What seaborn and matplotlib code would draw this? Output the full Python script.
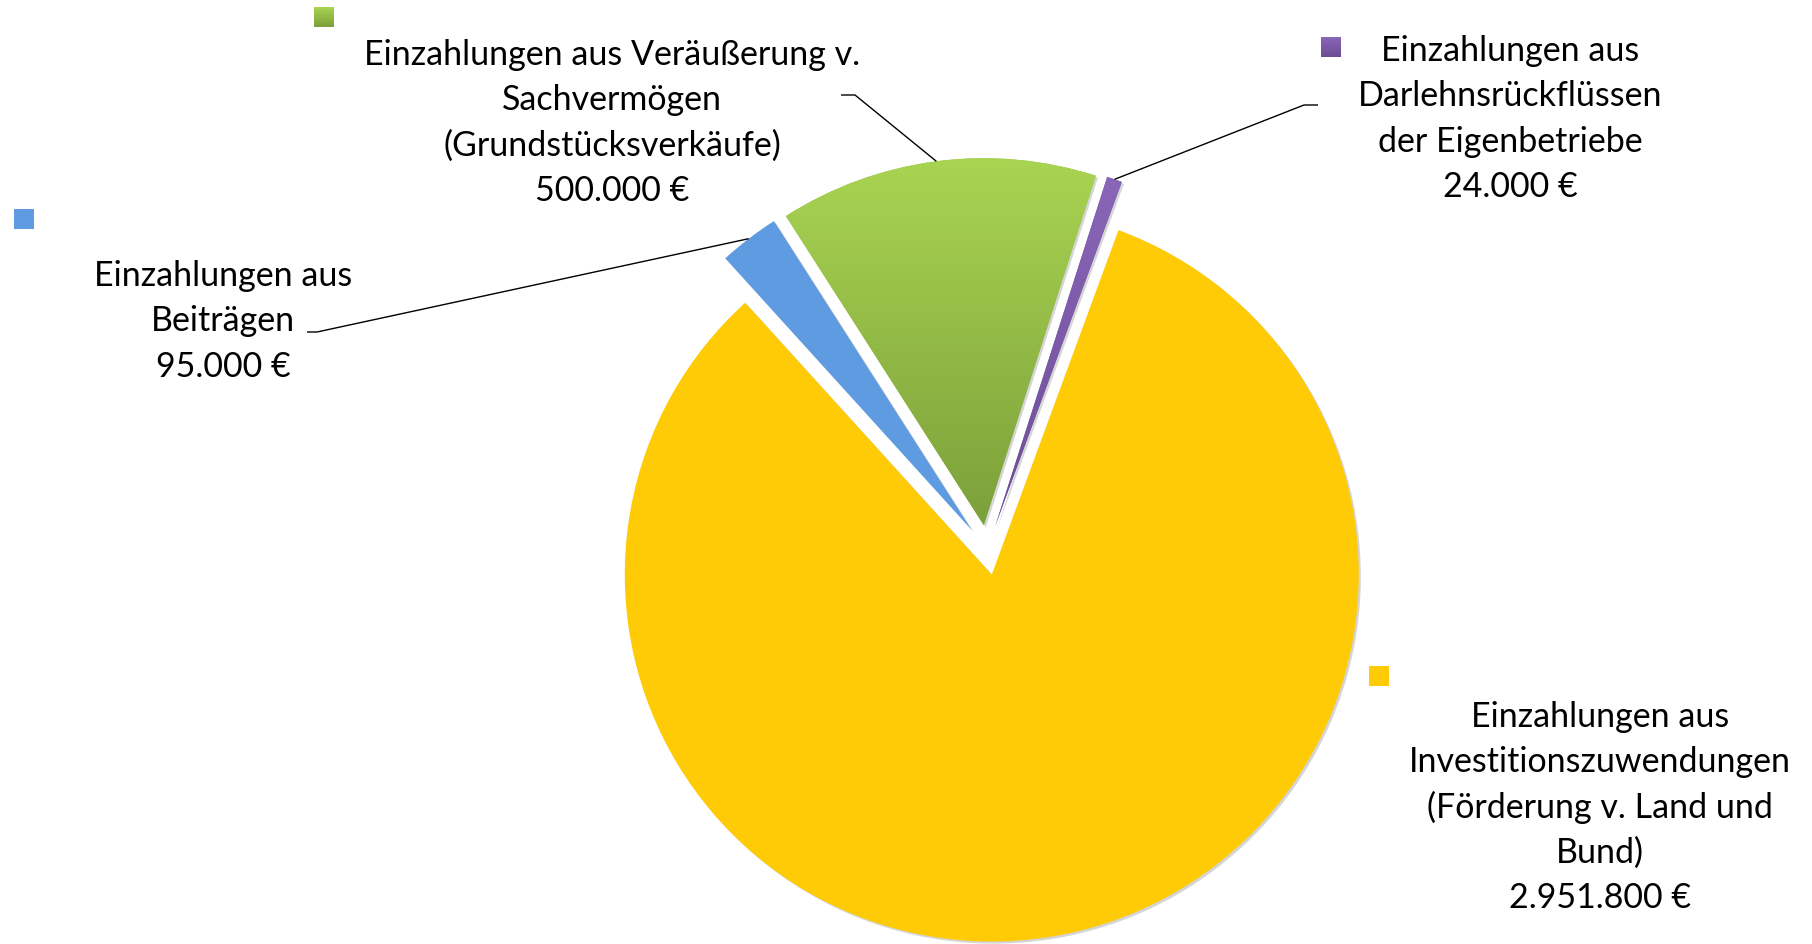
import numpy as np
import matplotlib
matplotlib.use("Agg")
import matplotlib.pyplot as plt
import seaborn as sns
from matplotlib import patheffects
from matplotlib.colors import LinearSegmentedColormap
from matplotlib.patches import Rectangle

# ---------------- data ----------------
categories = [
    "Investitionszuwendungen",
    "Beiträge",
    "Veräußerung v. Sachvermögen",
    "Darlehnsrückflüsse der Eigenbetriebe",
]
values = [2951800, 95000, 500000, 24000]
label_lines = [
    ["Einzahlungen aus", "Investitionszuwendungen", "(Förderung v. Land und", "Bund)"],
    ["Einzahlungen aus", "Beiträgen"],
    ["Einzahlungen aus Veräußerung v.", "Sachvermögen", "(Grundstücksverkäufe)"],
    ["Einzahlungen aus", "Darlehnsrückflüssen", "der Eigenbetriebe"],
]
colors = ["#FECB06", "#5F9BE0", "#98C24A", "#7F5DAA"]
gradients = [None, None, ("#A9D452", "#7CA03A"), ("#8A66B8", "#6C4C96")]


def euro(v):
    return f"{v:,.0f}".replace(",", ".") + " €"


value_labels = [euro(v) for v in values]

# ---------------- layout (pixel space, y from top) ----------------
W, H = 1812, 945
FONT = ["Lato", "DejaVu Sans"]
center_px = (987, 551)
radius = 367
explode_px = 25
line_step = 45.3
text_first_line = [(1600, 717), (223, 276), (612, 55), (1510, 51)]
squares = [(1369, 667), (14, 210), (314, 8), (1321, 38)]
sq = 20
leader_stub = [None, ((307, 333), (317, 333)), ((841, 96), (855, 96)), ((1318, 106), (1304, 106))]

sns.set_theme(style="white")
plt.rcParams["font.family"] = FONT

fig = plt.figure(figsize=(W / 100, H / 100), dpi=100)
ax = fig.add_axes([0, 0, 1, 1])


def fy(y):
    return H - y


wedges, _ = ax.pie(
    values,
    colors=colors,
    explode=[explode_px] * len(values),
    radius=radius,
    center=(center_px[0], fy(center_px[1])),
    startangle=69.8,
    counterclock=False,
    wedgeprops=dict(linewidth=0),
    frame=False,
)

for w in wedges:
    w.set_path_effects([
        patheffects.SimplePatchShadow(offset=(1.5, -1.5), shadow_rgbFace="k", alpha=0.18),
        patheffects.Normal(),
    ])


def vgrad(extent, top, bottom, z, clip=None):
    grad = np.linspace(0, 1, 256).reshape(-1, 1)
    cmap = LinearSegmentedColormap.from_list("g", [bottom, top])
    im = ax.imshow(grad, extent=extent, origin="lower", cmap=cmap,
                   aspect="auto", zorder=z, interpolation="bilinear")
    if clip is not None:
        im.set_clip_path(clip)
    return im


for w, g in zip(wedges, gradients):
    if g is None:
        continue
    ext = w.get_path().get_extents()
    vgrad([ext.x0, ext.x1, ext.y0, ext.y1], g[0], g[1], w.get_zorder() + 0.1, clip=w)

# font size fitted to the reference text width
renderer = fig.canvas.get_renderer()
probe = ax.text(0, 0, "Investitionszuwendungen", fontsize=20, family=FONT)
pw = probe.get_window_extent(renderer).width
probe.remove()
fs = 20 * 384 / pw

# labels
for i, lines in enumerate(label_lines):
    x0, y0 = text_first_line[i]
    all_lines = lines + [value_labels[i]]
    for k, line in enumerate(all_lines):
        ax.text(x0, fy(y0 + k * line_step), line, ha="center", va="center",
                fontsize=fs, family=FONT, color="black", zorder=5)
    # legend key square
    sx, sy = squares[i]
    g = gradients[i]
    if g is None:
        ax.add_patch(Rectangle((sx, fy(sy + sq)), sq, sq, facecolor=colors[i],
                               edgecolor="none", zorder=5))
    else:
        vgrad([sx, sx + sq, fy(sy + sq), fy(sy)], g[0], g[1], 5)

# leader lines ending at the middle of each wedge's outer arc
for i, stub in enumerate(leader_stub):
    if stub is None:
        continue
    w = wedges[i]
    mid = np.deg2rad((w.theta1 + w.theta2) / 2)
    cx, cy = w.center
    ex, ey = cx + w.r * np.cos(mid), cy + w.r * np.sin(mid)
    (ax1, ay1), (ax2, ay2) = stub
    ax.plot([ax1, ax2, ex], [fy(ay1), fy(ay2), ey], color="black", lw=1.0,
            solid_capstyle="butt", zorder=6)

ax.set_xlim(0, W)
ax.set_ylim(0, H)
ax.set_aspect("equal")
ax.axis("off")
fig.savefig("out.png", dpi=100, facecolor="white")
